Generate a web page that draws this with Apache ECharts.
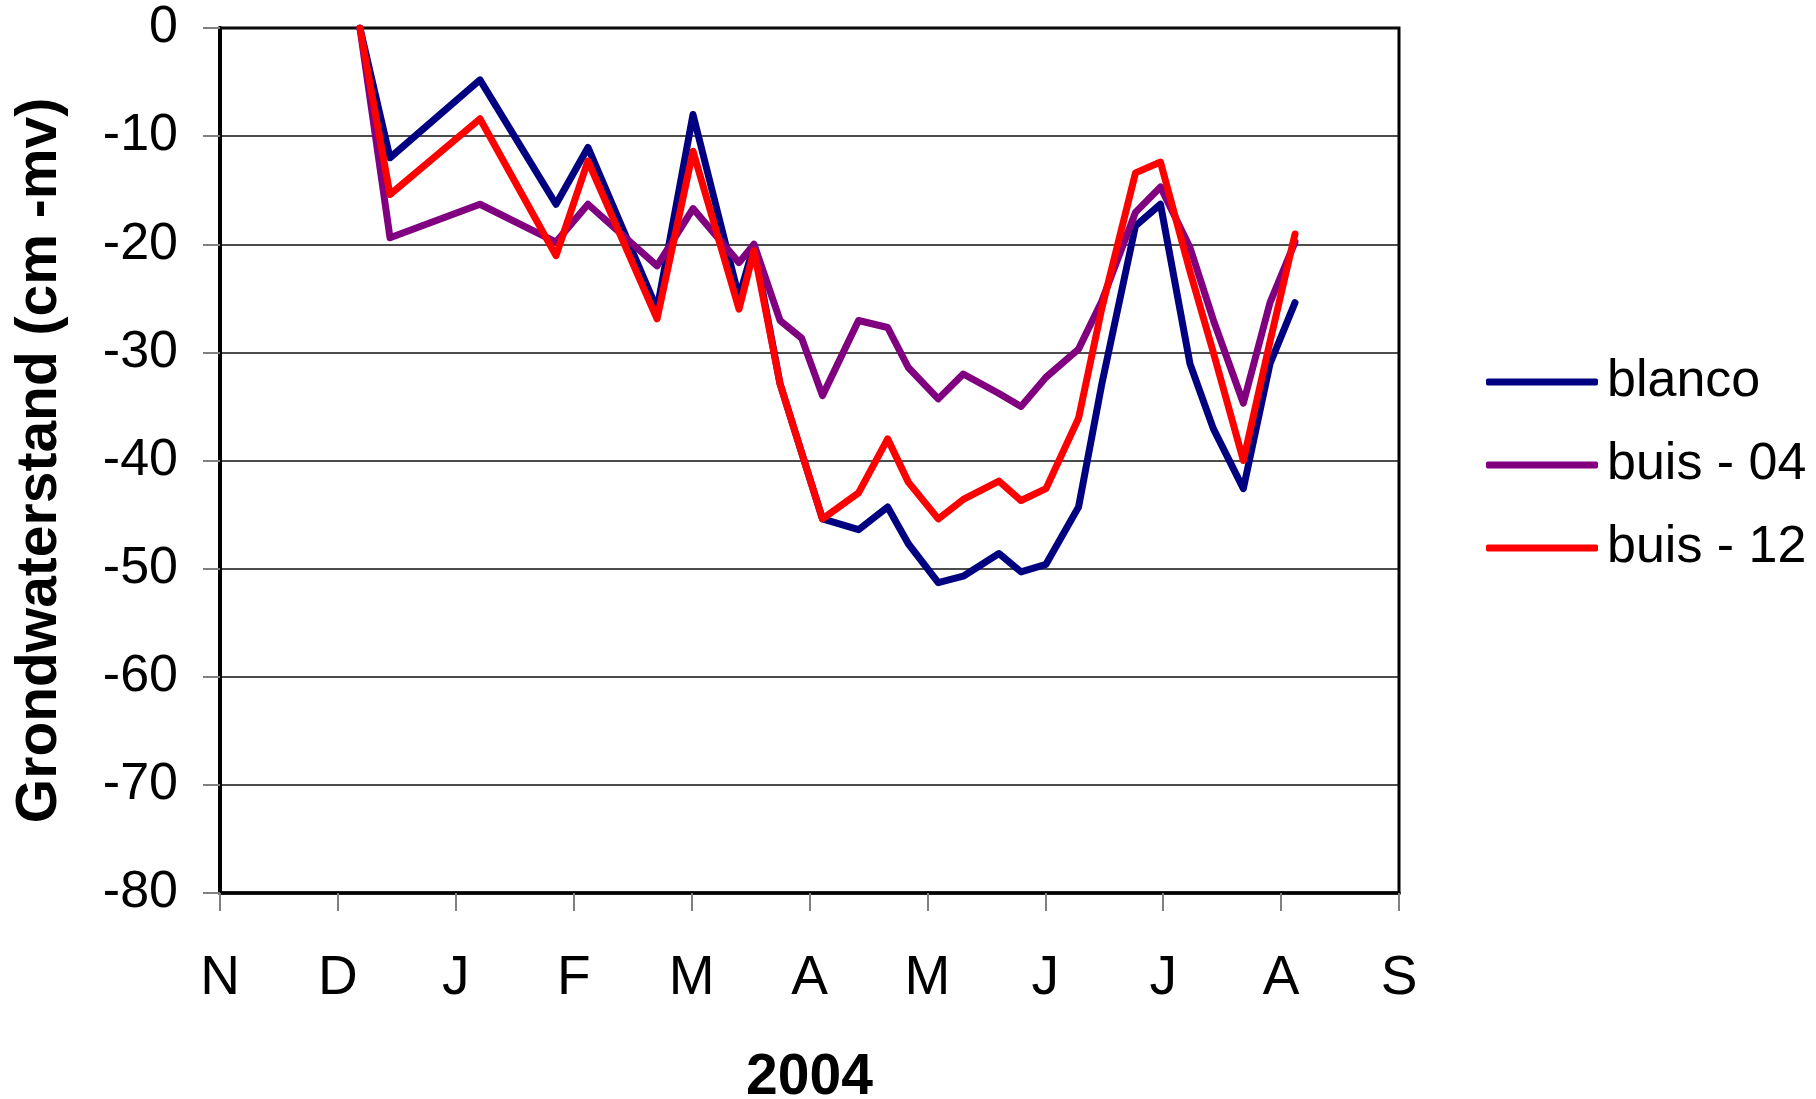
<!DOCTYPE html>
<html>
<head>
<meta charset="utf-8">
<script src="https://cdn.jsdelivr.net/npm/echarts@6/dist/echarts.min.js"></script>
<style>
html,body{margin:0;padding:0;background:#fff;}
#chart{width:1816px;height:1099px;}
</style>
</head>
<body>
<div id="chart"></div>
<script>
// Month tick labels (Nov 2003 .. Sep 2004)
var monthLabels = ["N","D","J","F","M","A","M","J","J","A","S"];
// Sample moments, in months after 1 Nov 2003
var sampleMonth = [1.187, 1.442, 2.205, 2.850, 3.121, 3.707, 4.012, 4.402, 4.529, 4.750,
                   4.934, 5.110, 5.416, 5.663, 5.838, 6.092, 6.304, 6.607, 6.794, 7.006,
                   7.282, 7.478, 7.765, 7.977, 8.227, 8.425, 8.680, 8.906, 9.118];
var blanco = [0, -12.0, -4.8, -16.3, -11.05, -26.0, -8.0, -24.9, -20.1, -32.9,
              -39.3, -45.4, -46.4, -44.3, -47.7, -51.3, -50.7, -48.6, -50.3, -49.6,
              -44.3, -33.0, -18.3, -16.3, -31.05, -37.05, -42.6, -31.05, -25.4];
var buis04 = [0, -19.4, -16.3, -19.8, -16.3, -22.0, -16.7, -21.7, -20.0, -27.05,
              -28.7, -34.0, -27.05, -27.7, -31.4, -34.3, -32.0, -33.8, -35.0, -32.3,
              -29.7, -25.3, -17.05, -14.7, -20.3, -27.0, -34.7, -25.4, -19.8];
var buis12 = [0, -15.4, -8.4, -21.05, -12.3, -26.9, -11.4, -26.0, -20.6, -32.9,
              -39.3, -45.4, -43.0, -38.0, -42.0, -45.4, -43.6, -41.9, -43.7, -42.6,
              -36.1, -26.0, -13.4, -12.4, -22.5, -30.0, -40.0, -29.0, -19.05];
var seriesNames = ["blanco", "buis - 04", "buis - 12"];
var seriesColors = ["#000080", "#800080", "#ff0000"];

function pairs(vals){ return sampleMonth.map(function(x,i){ return [x, vals[i]]; }); }

var FONT = "'Liberation Sans', Arial, sans-serif";
var chart = echarts.init(document.getElementById('chart'), null, {renderer:'canvas'});
var allVals = [blanco, buis04, buis12];
chart.setOption({
  animation: false,
  backgroundColor: '#ffffff',
  textStyle: {fontFamily: FONT, color: '#000'},
  grid: {left: 220, top: 28, right: 417, height: 865, containLabel: false, outerBoundsMode: 'none',
         show: true, borderColor: '#000', borderWidth: 3, backgroundColor: 'transparent'},
  legend: {
    orient: 'vertical', left: 1481, top: 347,
    itemWidth: 112, itemHeight: 7, itemGap: 23, icon: 'roundRect',
    textStyle: {fontSize: 52, fontFamily: FONT, color: '#000', lineHeight: 60, padding: [0,0,0,4]},
    data: seriesNames
  },
  xAxis: {
    type: 'value', min: 0, max: 10, interval: 1,
    name: '2004', nameLocation: 'middle', nameGap: 157,
    nameTextStyle: {fontSize: 57, fontWeight: 'bold', fontFamily: FONT, color: '#000'},
    axisLine: {show: true, onZero: false, lineStyle: {color: '#000', width: 3.5}},
    axisTick: {show: true, inside: false, length: 18, lineStyle: {color: '#808080', width: 2}},
    axisLabel: {fontSize: 55, fontFamily: FONT, color: '#000', margin: 58,
      formatter: function(v){ return monthLabels[Math.round(v)] || ''; }},
    splitLine: {show: false}
  },
  yAxis: {
    type: 'value', min: -80, max: 0, interval: 10,
    name: 'Grondwaterstand (cm -mv)', nameLocation: 'middle', nameGap: 151, nameRotate: 90,
    nameTextStyle: {fontSize: 57, fontWeight: 'bold', fontFamily: FONT, color: '#000'},
    axisLine: {show: true, onZero: false, lineStyle: {color: '#000', width: 4}},
    axisTick: {show: true, inside: false, length: 17, lineStyle: {color: '#808080', width: 2}},
    axisLabel: {fontSize: 52, fontFamily: FONT, color: '#000', margin: 42},
    splitLine: {show: true, lineStyle: {color: '#111', width: 1.5}}
  },
  series: seriesNames.map(function(n, i){
    return {
      name: n, type: 'line', data: pairs(allVals[i]),
      showSymbol: false, symbol: 'none', smooth: false,
      lineStyle: {color: seriesColors[i], width: 7, join: 'round', cap: 'round'},
      itemStyle: {color: seriesColors[i]}
    };
  })
});
</script>
</body>
</html>
